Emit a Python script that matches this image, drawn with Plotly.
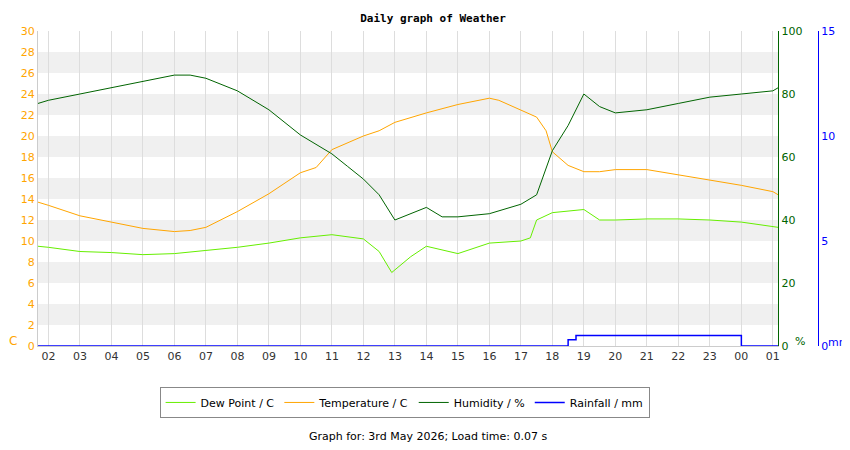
import pandas as pd
import plotly.graph_objects as go

day = pd.Timestamp("2026-05-02")

temp_h = [1.67, 2, 3, 4, 5, 6, 6.5, 7, 8, 9, 10, 10.5, 11, 12, 12.5, 13, 14, 15, 16, 16.3, 17, 17.5, 17.8, 18, 18.5, 19, 19.5, 20, 21, 22, 23, 24, 25, 25.17]
temp_v = [13.7, 13.4, 12.4, 11.8, 11.2, 10.9, 11.0, 11.3, 12.8, 14.5, 16.5, 17.0, 18.7, 20.0, 20.5, 21.3, 22.2, 23.0, 23.6, 23.4, 22.5, 21.8, 20.5, 18.5, 17.2, 16.6, 16.6, 16.8, 16.8, 16.3, 15.8, 15.3, 14.7, 14.4]

dew_h = [1.67, 2, 3, 4, 5, 6, 7, 8, 9, 10, 11, 12, 12.5, 12.9, 13.5, 14, 15, 16, 17, 17.3, 17.5, 18, 19, 19.5, 20, 21, 22, 23, 24, 25, 25.17]
dew_v = [9.5, 9.4, 9.0, 8.9, 8.7, 8.8, 9.1, 9.4, 9.8, 10.3, 10.6, 10.2, 9.0, 7.0, 8.5, 9.5, 8.8, 9.8, 10.0, 10.3, 12.0, 12.7, 13.0, 12.0, 12.0, 12.1, 12.1, 12.0, 11.8, 11.4, 11.3]

hum_h = [1.67, 2, 3, 4, 5, 6, 6.5, 7, 8, 9, 10, 11, 11.5, 12, 12.5, 13, 14, 14.5, 15, 16, 17, 17.5, 18, 18.5, 19, 19.5, 20, 21, 22, 23, 24, 25, 25.17]
hum_v = [77, 78, 80, 82, 84, 86, 86, 85, 81, 75, 67, 61, 57, 53, 48, 40, 44, 41, 41, 42, 45, 48, 62, 70, 80, 76, 74, 75, 77, 79, 80, 81, 82]

rain_h = [1.67, 18.5, 18.75, 24, 25.17]
rain_v = [0, 0.3, 0.5, 0, 0]


def times(hours):
    return [day + pd.Timedelta(hours=h) for h in hours]


fig = go.Figure()

# grey bands on the left scale
for lo in range(2, 28, 4):
    fig.add_shape(type="rect", xref="x domain", yref="y", x0=0, x1=1, y0=lo, y1=lo + 2,
                  fillcolor="#f0f0f0", line_width=0, layer="below")

fig.add_trace(go.Scatter(x=times(dew_h), y=dew_v, name="Dew Point / C", mode="lines",
                         line=dict(color="#66ee00", width=1)))
fig.add_trace(go.Scatter(x=times(temp_h), y=temp_v, name="Temperature / C", mode="lines",
                         line=dict(color="orange", width=1)))
fig.add_trace(go.Scatter(x=times(hum_h), y=hum_v, name="Humidity / %", yaxis="y2", mode="lines",
                         line=dict(color="darkgreen", width=1)))
fig.add_trace(go.Scatter(x=times(rain_h), y=rain_v, name="Rainfall / mm", yaxis="y3", mode="lines",
                         line=dict(color="blue", width=1.5, shape="hv")))

fig.update_layout(
    width=850, height=450,
    margin=dict(l=30, r=40, t=23, b=112, autoexpand=False),
    plot_bgcolor="white", paper_bgcolor="white",
    font=dict(family="DejaVu Sans", size=11, color="#333"),
    title=dict(text="<b>Daily graph of Weather</b>", x=0.5, y=0.985, yanchor="top", xanchor="center",
               font=dict(family="DejaVu Sans Mono", size=11, color="black")),
    showlegend=True,
    legend=dict(orientation="h", x=0.47, xanchor="center", y=-0.13, yanchor="top",
                bordercolor="#888", borderwidth=1, font=dict(size=11, color="black")),
    xaxis=dict(domain=[0, 0.949], range=[day + pd.Timedelta(hours=1.67), day + pd.Timedelta(hours=25.17)],
               dtick=3600000, tickformat="%H", showgrid=True, gridcolor="#dddddd", automargin=False,
               ticks="", showline=True, linecolor="#ccc", tickfont=dict(color="#333")),
    yaxis=dict(range=[0, 30], dtick=2, showgrid=False, zeroline=False, tickfont=dict(color="orange"),
               showline=True, linecolor="#ccc", automargin=False),
    yaxis2=dict(range=[0, 100], dtick=20, overlaying="y", side="right", anchor="x", automargin=False,
                showgrid=False, zeroline=False, showline=True, linecolor="darkgreen",
                tickfont=dict(color="darkgreen")),
    yaxis3=dict(range=[0, 15], dtick=5, overlaying="y", side="right", anchor="free", position=1.0,
                showgrid=False, zeroline=False, showline=True, linecolor="blue", automargin=False,
                tickfont=dict(color="blue")),
)

fig.add_annotation(text="C", xref="paper", yref="paper", x=-0.04, y=0.015, xanchor="left", yanchor="middle",
                   showarrow=False, font=dict(color="orange", size=12))
fig.add_annotation(text="%", xref="paper", yref="paper", x=0.968, y=0.015, xanchor="left", yanchor="middle",
                   showarrow=False, font=dict(color="darkgreen", size=11))
fig.add_annotation(text="mm", xref="paper", yref="paper", x=1.01, y=0.01, xanchor="left", yanchor="middle",
                   showarrow=False, font=dict(color="blue", size=11))
fig.add_annotation(text="Graph for: 3rd May 2026; Load time: 0.07 s", xref="paper", yref="paper",
                   x=0.5, y=-0.315, xanchor="center", showarrow=False, font=dict(color="black", size=11))

fig.write_html("out.html")
